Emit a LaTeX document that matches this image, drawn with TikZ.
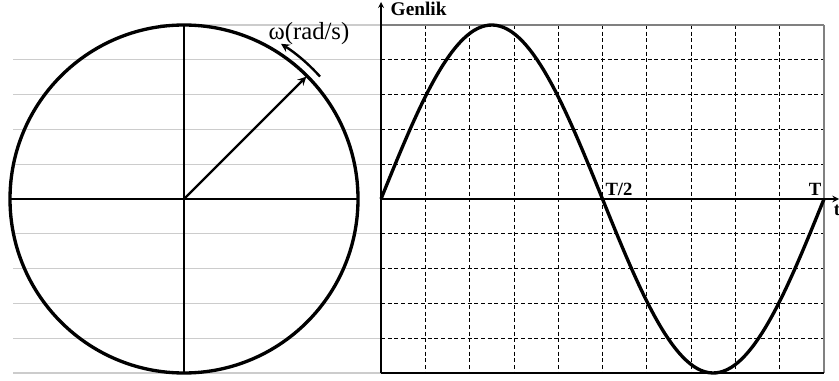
\documentclass[tikz,border=0pt]{standalone}
\usepackage{fontspec}
\setmainfont{Liberation Serif}
\begin{document}
\begin{tikzpicture}[x=0.75pt, y=-0.75pt, >=stealth]
    \useasboundingbox (0,0) rectangle (839,381);
    \tikzset{guide/.style={gray!40, line width=0.9pt},
             gridline/.style={dash pattern=on 3pt off 2pt, line width=0.6pt},
             thickline/.style={line width=2.5pt}}

    % Guide lines across the circle
    \draw[guide] (160,25) -- (381,25);
    \foreach \y in {59.8,94.6,129.4,164.2,233.8,268.6,303.4,338.2,373}
        \draw[guide] (13,\y) -- (381,\y);

    % Grid of the graph
    \foreach \i in {1,...,9}
        \draw[gridline] ({381+44.3*\i},25) -- ({381+44.3*\i},373);
    \foreach \y in {59.8,94.6,129.4,164.2,233.8,268.6,303.4,338.2}
        \draw[gridline] (381,\y) -- (824,\y);
    \draw[gray, line width=1.2pt] (381,25) -- (824,25);
    \draw[gray, line width=1pt] (824,25) -- (824,373);
    \draw[line width=1pt] (381,373) -- (824,373);

    % Circle
    \coordinate (O) at (184,199);
    \draw[thickline] (O) circle[radius=174];
    \draw[line width=2.2pt] (10,199) -- (358,199);
    \draw[line width=2.2pt] (184,25) -- (184,373);
    \coordinate (P) at ([shift={(-45:173)}]O);
    \draw[->, line width=1.8pt] (O) -- (P);
    \draw[->, line width=1.8pt] ([shift={(-42:183)}]O) arc[start angle=-42, end angle=-58, radius=183];
    \node[font=\fontsize{18.5}{20}\selectfont] (omega) at (309,34) {ω(rad/s)};

    % Sine wave
    \draw[thickline] plot[domain=0:360, samples=120, smooth] ({381+1.230556*\x}, {199-174*sin(\x)});

    % Axes
    \coordinate (ybot) at (381,373);
    \coordinate (ytop) at (381,2);
    \coordinate (tleft) at (381,199);
    \coordinate (tright) at (839,199);
    \draw[->, line width=1pt] (ybot) -- (ytop);
    \draw[->, line width=1.2pt] (tleft) -- (tright);
    \node[font=\bfseries\fontsize{14.5}{16}\selectfont, anchor=west] (genlik) at (386,9) {Genlik};
    \node[font=\bfseries\fontsize{14}{16}\selectfont] (half) at (619,189) {T/2};
    \node[font=\bfseries\fontsize{14}{16}\selectfont] (full) at (815,189) {T};
    \node[font=\bfseries\fontsize{14}{16}\selectfont] (tlabel) at (837,210) {t};
\end{tikzpicture}
\end{document}
